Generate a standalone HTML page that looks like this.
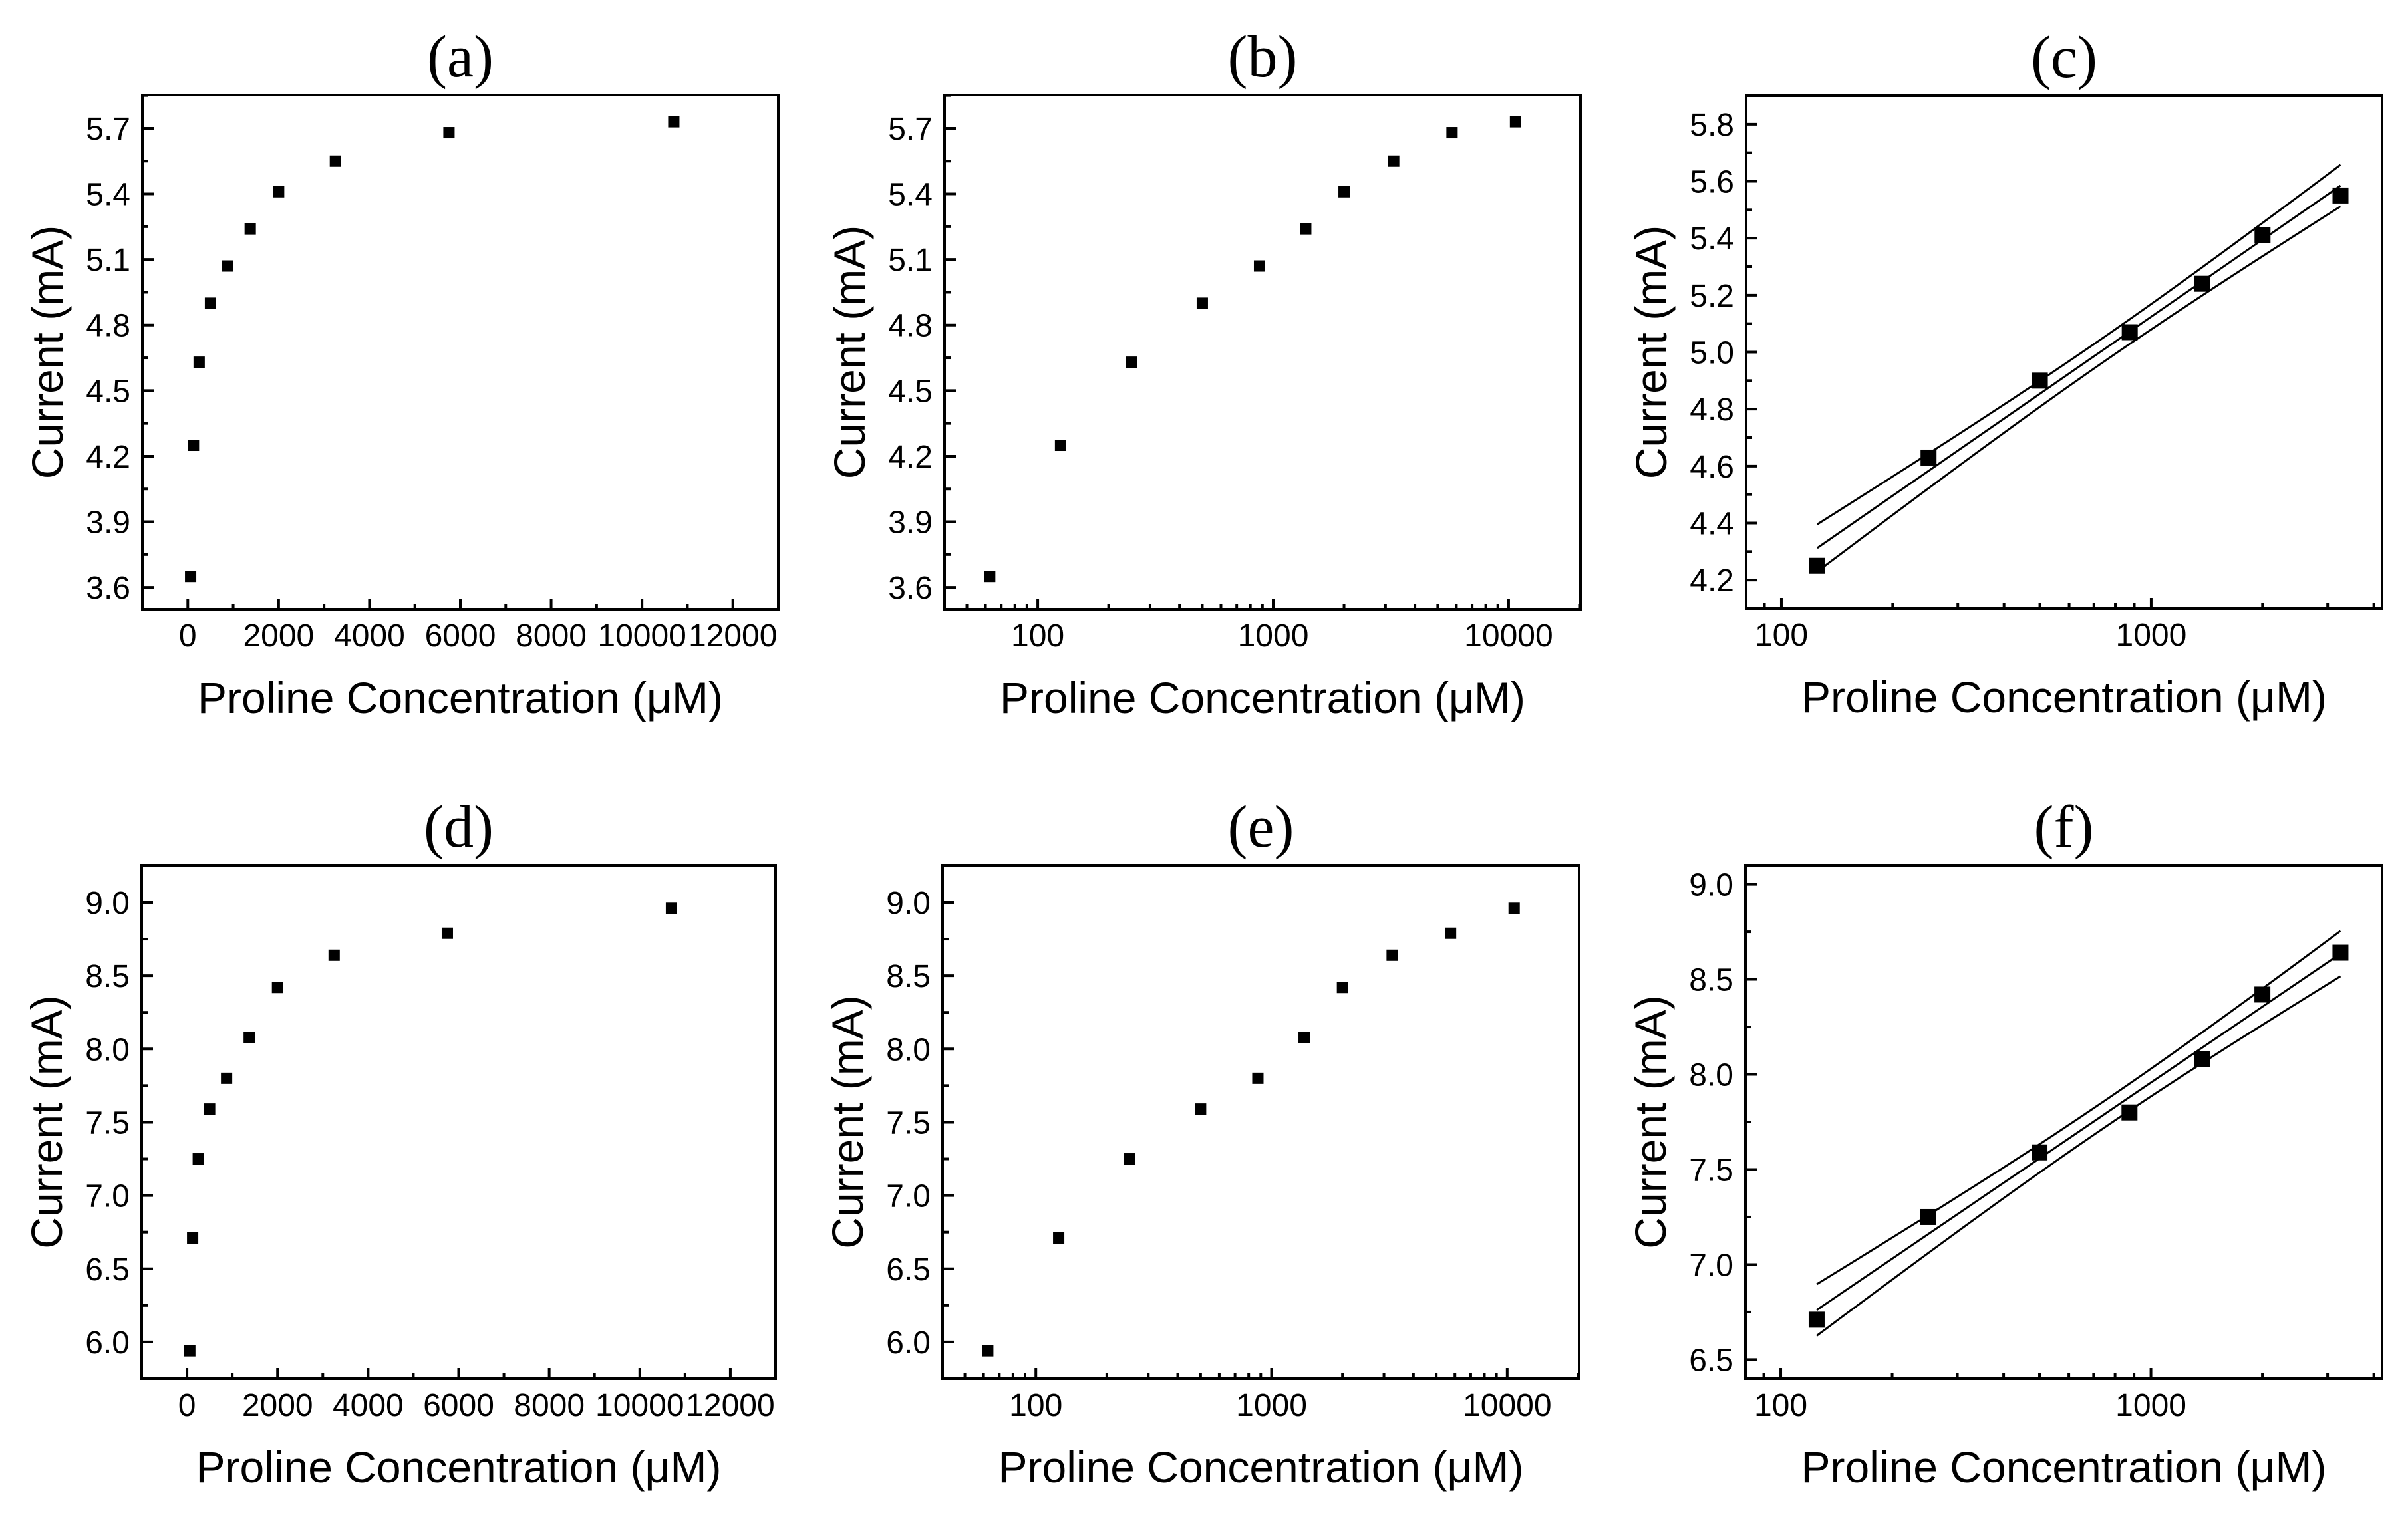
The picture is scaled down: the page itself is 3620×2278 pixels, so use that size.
<!DOCTYPE html>
<html><head><meta charset="utf-8"><style>
html,body{margin:0;padding:0;background:#fff;}
svg{display:block;}
text{font-family:"Liberation Sans",Arial,sans-serif;fill:#000;}
.title{font-family:"Liberation Serif",serif;font-size:90px;}
.tick{font-size:48px;}
.axl{font-size:66px;}
</style></head><body>
<svg id="fig" width="3620" height="2278" viewBox="0 0 3620 2278" xmlns="http://www.w3.org/2000/svg"></svg>
<script>
const concAll = [62.5, 125, 250, 500, 875, 1375, 2000, 3250, 5750, 10700];
const currentTop = [3.65, 4.25, 4.63, 4.90, 5.07, 5.24, 5.41, 5.55, 5.68, 5.73];
const currentBottom = [5.94, 6.71, 7.25, 7.59, 7.80, 8.08, 8.42, 8.64, 8.79, 8.96];
const concFit = [125, 250, 500, 875, 1375, 2000, 3250];
const currentFitTop = [4.25, 4.63, 4.90, 5.07, 5.24, 5.41, 5.55];
const currentFitBottom = [6.71, 7.25, 7.59, 7.80, 8.08, 8.42, 8.64];
const yTicksTop = [3.6, 3.9, 4.2, 4.5, 4.8, 5.1, 5.4, 5.7];
const yTicksC = [4.2, 4.4, 4.6, 4.8, 5.0, 5.2, 5.4, 5.6, 5.8];
const yTicksBottom = [6.0, 6.5, 7.0, 7.5, 8.0, 8.5, 9.0];
const yTicksF = [6.5, 7.0, 7.5, 8.0, 8.5, 9.0];
const xTicksLin = [0, 2000, 4000, 6000, 8000, 10000, 12000];
const xTicksLog = [100, 1000, 10000];

const NS = "http://www.w3.org/2000/svg";
const svg = document.getElementById('fig');
function el(tag, attrs, parent, txt){
  const e = document.createElementNS(NS, tag);
  for (const k in attrs) e.setAttribute(k, attrs[k]);
  if (txt !== undefined) e.textContent = txt;
  (parent || svg).appendChild(e);
  return e;
}

const panels = [
  {id:'a', L:214, R:1170, T:143, B:916, xlog:false, xd:[-1000,13000], yd:[3.5,5.852], yt:yTicksTop, ym:0.15, xs:concAll, ys:currentTop, ms:17, dec:1},
  {id:'b', L:1420, R:2376, T:143, B:916, xlog:true, xd:[40.2,20200], yd:[3.5,5.852], yt:yTicksTop, ym:0.15, xs:concAll, ys:currentTop, ms:17, dec:1},
  {id:'c', L:2625, R:3581, T:144, B:915, xlog:true, xd:[80.3,4210], yd:[4.1,5.9], yt:yTicksC, ym:0.1, xs:concFit, ys:currentFitTop, ms:24, dec:1, fit:true},
  {id:'d', L:213, R:1166, T:1301, B:2073, xlog:false, xd:[-1000,13000], yd:[5.75,9.254], yt:yTicksBottom, ym:0.25, xs:concAll, ys:currentBottom, ms:17, dec:1},
  {id:'e', L:1417, R:2374, T:1301, B:2073, xlog:true, xd:[40.2,20200], yd:[5.75,9.254], yt:yTicksBottom, ym:0.25, xs:concAll, ys:currentBottom, ms:17, dec:1},
  {id:'f', L:2624, R:3581, T:1301, B:2073, xlog:true, xd:[80.3,4210], yd:[6.4,9.1], yt:yTicksF, ym:0.25, xs:concFit, ys:currentFitBottom, ms:24, dec:1, fit:true}
];

panels.forEach(p => {
  const g = el('g', {});
  
  
  const X = v => p.xlog
    ? p.L + (Math.log10(v) - Math.log10(p.xd[0])) / (Math.log10(p.xd[1]) - Math.log10(p.xd[0])) * (p.R - p.L)
    : p.L + (v - p.xd[0]) / (p.xd[1] - p.xd[0]) * (p.R - p.L);
  const Y = v => p.B - (v - p.yd[0]) / (p.yd[1] - p.yd[0]) * (p.B - p.T);
  const cx = (p.L + p.R) / 2;

  const t = el('text', {x:cx, y:p.T - 28, 'text-anchor':'middle', class:'title'}, g, '(' + p.id + ')');
  
  

  const yt = p.yt;
  for (let v = yt[0] - p.ym; v <= p.yd[1] + 1e-9; v += p.ym) {
    if (v < p.yd[0]) continue;
    const isMajor = yt.some(m => Math.abs(m - v) < 1e-6);
    const yy = Y(v);
    const tk = el('line', {x1:p.L, x2:p.L + (isMajor ? 17 : 9), y1:yy, y2:yy, stroke:'#000', 'stroke-width':4}, g);
    
    
  }
  yt.forEach(v => {
    const lb = el('text', {x:p.L - 18, y:Y(v) + 17, 'text-anchor':'end', class:'tick'}, g, v.toFixed(p.dec));
    
    
  });

  let majors = [], minors = [];
  if (p.xlog) {
    majors = xTicksLog.filter(v => v >= p.xd[0] && v <= p.xd[1]);
    for (let d = 10; d <= 100000; d *= 10)
      for (let k = 2; k <= 9; k++) { const v = d * k; if (v > p.xd[0] && v < p.xd[1]) minors.push(v); }
  } else {
    majors = xTicksLin;
    for (let v = 1000; v < p.xd[1]; v += 2000) minors.push(v);
  }
  majors.forEach(v => {
    const xx = X(v);
    const tk = el('line', {x1:xx, x2:xx, y1:p.B, y2:p.B - 16, stroke:'#000', 'stroke-width':4}, g);
    
    
    const lb = el('text', {x:xx, y:p.B + 56, 'text-anchor':'middle', class:'tick'}, g, String(v));
    
    
  });
  minors.forEach(v => {
    const xx = X(v);
    const tk = el('line', {x1:xx, x2:xx, y1:p.B, y2:p.B - 8, stroke:'#000', 'stroke-width':4}, g);
    
    
  });

  const fr = el('rect', {x:p.L, y:p.T, width:p.R - p.L, height:p.B - p.T, fill:'none', stroke:'#000', 'stroke-width':4}, g);
  
  

  if (p.fit) {
    const lx = p.xs.map(v => Math.log10(v));
    const n = lx.length;
    const mx = lx.reduce((a,b)=>a+b,0)/n, my = p.ys.reduce((a,b)=>a+b,0)/n;
    let sxx = 0, sxy = 0;
    lx.forEach((x,i)=>{ sxx += (x-mx)*(x-mx); sxy += (x-mx)*(p.ys[i]-my); });
    const b = sxy/sxx, a = my - b*mx;
    let sse = 0; lx.forEach((x,i)=>{ const r = p.ys[i]-(a+b*x); sse += r*r; });
    const se = Math.sqrt(sse/(n-2)), tval = 2.571;
    const x0 = lx[0], x1 = lx[n-1];
    const pts = [[],[],[]];
    for (let k = 0; k <= 40; k++) {
      const x = x0 + (x1-x0)*k/40;
      const yf = a + b*x;
      const h = tval*se*Math.sqrt(1/n + (x-mx)*(x-mx)/sxx);
      const px = X(Math.pow(10,x));
      pts[0].push(px+','+Y(yf)); pts[1].push(px+','+Y(yf+h)); pts[2].push(px+','+Y(yf-h));
    }
    ['fit-line','upper-confidence-band','lower-confidence-band'].forEach((nm,i)=>{
      const pl = el('polyline', {points:pts[i].join(' '), fill:'none', stroke:'#000', 'stroke-width':3}, g);
      
      
    });
  }

  p.xs.forEach((v,i)=>{
    const s = p.ms;
    const r = el('rect', {x:X(v)-s/2, y:Y(p.ys[i])-s/2, width:s, height:s, fill:'#000'}, g);
    
    
  });

  const xl = el('text', {x:cx, y:p.B + 156, 'text-anchor':'middle', class:'axl'}, g, 'Proline Concentration (μM)');
  
  
  const ycx = p.L - 120, ycy = (p.T + p.B) / 2;
  const yl = el('text', {x:ycx, y:ycy, 'text-anchor':'middle', class:'axl', transform:'rotate(-90 '+ycx+' '+ycy+')'}, g, 'Current (mA)');
  
  
});
</script>
</body></html>
